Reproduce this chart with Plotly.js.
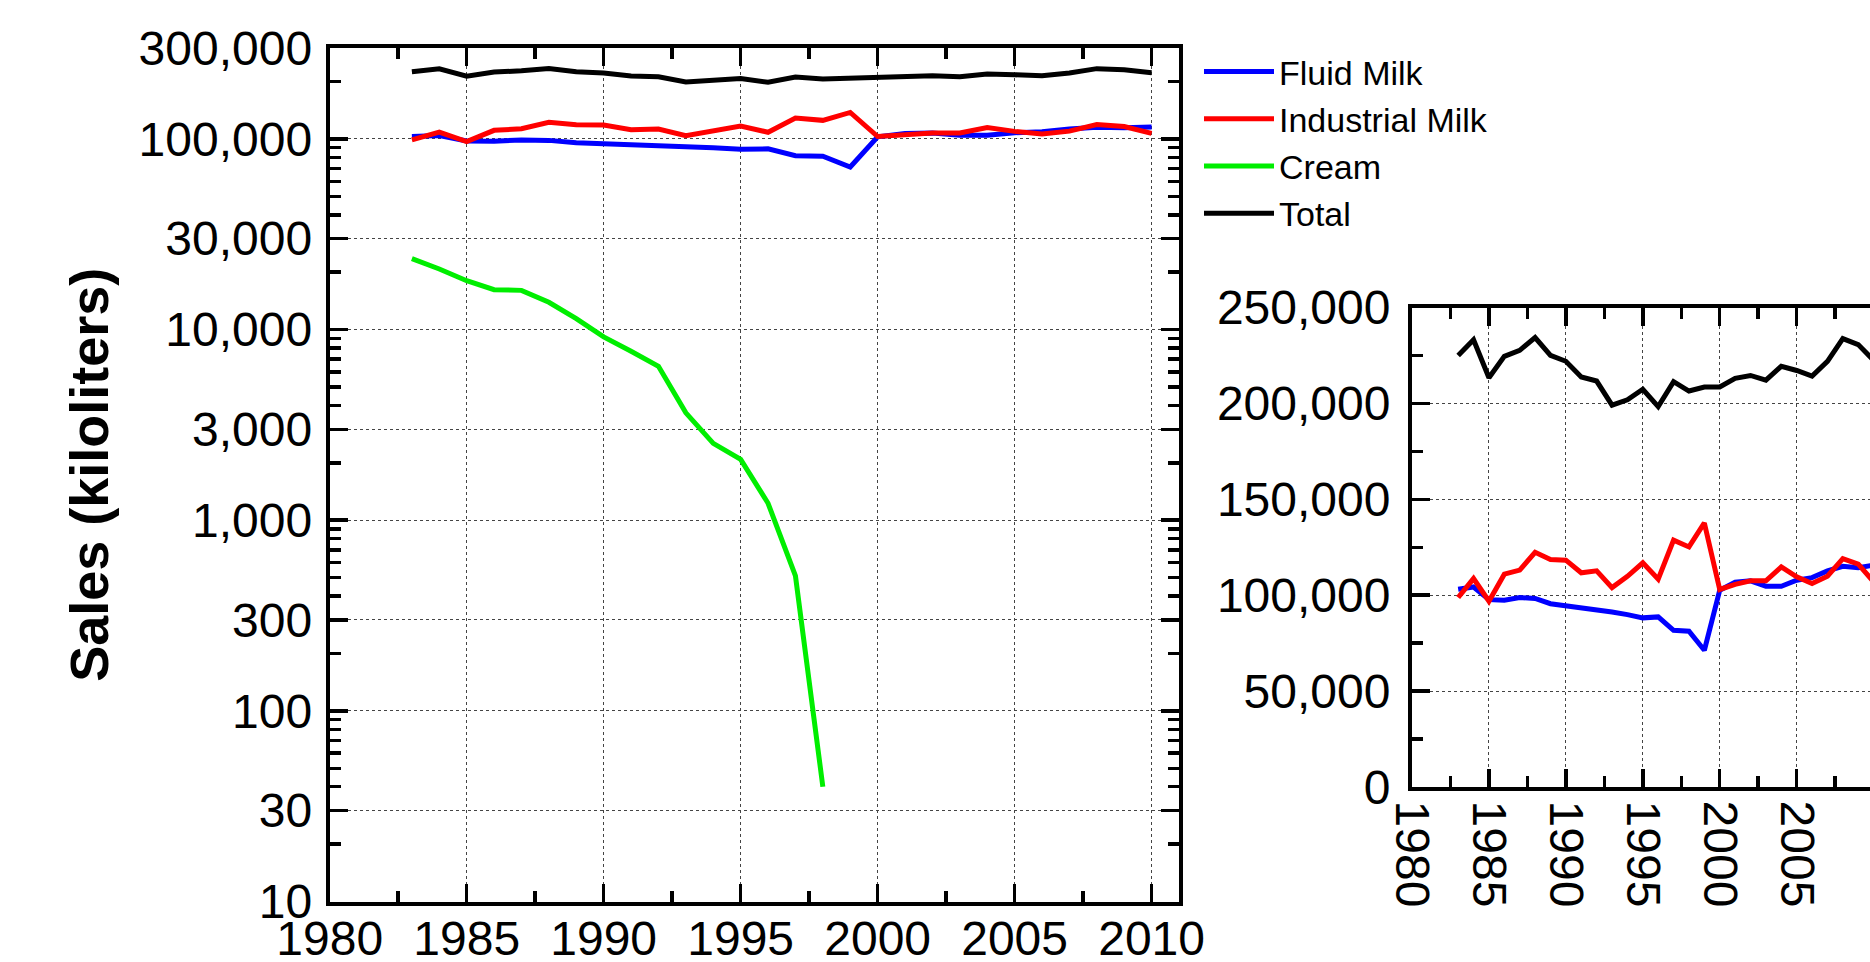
<!DOCTYPE html>
<html>
<head>
<meta charset="utf-8">
<script src="https://cdn.plot.ly/plotly-3.0.1.min.js"></script>
<style>
  html, body { margin: 0; padding: 0; overflow: hidden; background: #fff; }
  #chart { width: 1900px; height: 962px; }
</style>
</head>
<body>
<div id="chart"></div>
<script>
// ---- data (kiloliters) ----
const years = [1983,1984,1985,1986,1987,1988,1989,1990,1991,1992,1993,1994,1995,1996,1997,1998,1999,2000,2001,2002,2003,2004,2005,2006,2007,2008,2009,2010];
const fluidMilk = [103100,104300,97700,97400,98800,98300,95600,94600,93900,92500,91300,89900,88200,88700,81700,81200,71300,102600,106800,107500,104700,104700,107800,109200,112700,115100,114400,115700];
const industrialMilk = [98800,108700,96900,111000,113100,122400,118600,118300,111700,112700,104000,109900,116900,108400,128700,125200,137700,103000,105700,107500,107500,114800,109600,106100,109900,119100,116200,107000];
const cream = [23550,20800,18050,16200,16060,13900,11420,9155,7700,6420,3660,2530,2087,1227,511,40];
const total = [225000,233200,213400,224600,227700,234400,225100,222000,213800,211700,199100,201900,207400,198400,211400,206500,208600,208600,213100,214600,212200,219400,217200,214300,222000,233800,230700,222500];

const seriesNames = ['Fluid Milk','Industrial Milk','Cream','Total'];
const seriesColors = ['#0000ff','#ff0000','#00ee00','#000000'];

const logTickVals = [10,30,100,300,1000,3000,10000,30000,100000,300000];
const logTickText = ['10','30','100','300','1,000','3,000','10,000','30,000','100,000','300,000'];
const logMinorVals = [20,40,50,60,70,80,90,200,400,500,600,700,800,900,2000,4000,5000,6000,7000,8000,9000,20000,40000,50000,60000,70000,80000,90000,200000];
const linTickVals = [0,50000,100000,150000,200000,250000];
const linTickText = ['0','50,000','100,000','150,000','200,000','250,000'];
const yearTickVals = [1980,1985,1990,1995,2000,2005,2010];
const yearTickText = ['1980','1985','1990','1995','2000','2005','2010'];

// ---- traces ----
const creamYears = years.slice(0, cream.length);
const leftData = [fluidMilk, industrialMilk, cream, total];
const traces = [];
leftData.forEach((vals, i) => {
  traces.push({
    x: i === 2 ? creamYears : years, y: vals, name: seriesNames[i],
    type: 'scatter', mode: 'lines', xaxis: 'x', yaxis: 'y',
    line: {color: seriesColors[i], width: 5}, showlegend: true
  });
});
[[fluidMilk,0],[industrialMilk,1],[total,3]].forEach(([vals, i]) => {
  traces.push({
    x: years, y: vals, name: seriesNames[i],
    type: 'scatter', mode: 'lines', xaxis: 'x2', yaxis: 'y2',
    line: {color: seriesColors[i], width: 5}, showlegend: false
  });
});

const W = 1900, H = 962;
const font = {family: 'Liberation Sans, Arial, sans-serif', color: '#000'};
const common = {
  showline: true, linewidth: 4, linecolor: '#000', mirror: 'allticks',
  ticks: 'inside', ticklen: 18, tickwidth: 3.5, tickcolor: '#000',
  showgrid: true, gridcolor: '#444', gridwidth: 1, griddash: 'dot',
  zeroline: false, tickfont: Object.assign({size: 48}, font), fixedrange: true
};
const xCommon = Object.assign({}, common, {
  range: [1980, 2011], tickmode: 'array', tickvals: yearTickVals, ticktext: yearTickText,
  minor: {tickmode: 'linear', tick0: 1982.5, dtick: 5, ticks: 'inside', ticklen: 11, tickwidth: 3.5, tickcolor: '#000', showgrid: false}
});

const layout = {
  width: W, height: H,
  margin: {l: 0, r: 0, t: 0, b: 0},
  paper_bgcolor: '#fff', plot_bgcolor: '#fff',
  font: font,
  showlegend: true,
  legend: {
    x: 1199 / W, y: 1 - 43 / H, xanchor: 'left', yanchor: 'top',
    font: Object.assign({size: 34}, font), itemwidth: 70,
    bgcolor: 'rgba(0,0,0,0)', borderwidth: 0, tracegroupgap: 0
  },
  xaxis: Object.assign({}, xCommon, {
    domain: [329.7 / W, 1179 / W], anchor: 'y', ticklabelstandoff: -8
  }),
  yaxis: Object.assign({}, common, {
    type: 'log', range: [1, Math.log10(300000)],
    domain: [(H - 901.5) / H, (H - 48) / H], anchor: 'x',
    tickmode: 'array', tickvals: logTickVals, ticktext: logTickText,
    ticklabelstandoff: 4,
    minor: {tickmode: 'array', tickvals: logMinorVals, ticks: 'inside', ticklen: 11, tickwidth: 3.5, tickcolor: '#000', showgrid: false},
    title: {text: 'Sales (kiloliters)', font: Object.assign({size: 54, weight: 'bold'}, font), standoff: 14}
  }),
  xaxis2: Object.assign({}, xCommon, {
    domain: [1412 / W, 1889 / W], anchor: 'y2', tickangle: 90, ticklabelstandoff: 0
  }),
  yaxis2: Object.assign({}, common, {
    range: [0, 250000], domain: [(H - 787) / H, (H - 307.6) / H], anchor: 'x2',
    tickmode: 'array', tickvals: linTickVals, ticktext: linTickText,
    ticklabelstandoff: 8,
    minor: {tickmode: 'linear', tick0: 25000, dtick: 50000, ticks: 'inside', ticklen: 11, tickwidth: 3.5, tickcolor: '#000', showgrid: false}
  })
};

Plotly.newPlot('chart', traces, layout, {displayModeBar: false, staticPlot: true});
</script>
</body>
</html>
